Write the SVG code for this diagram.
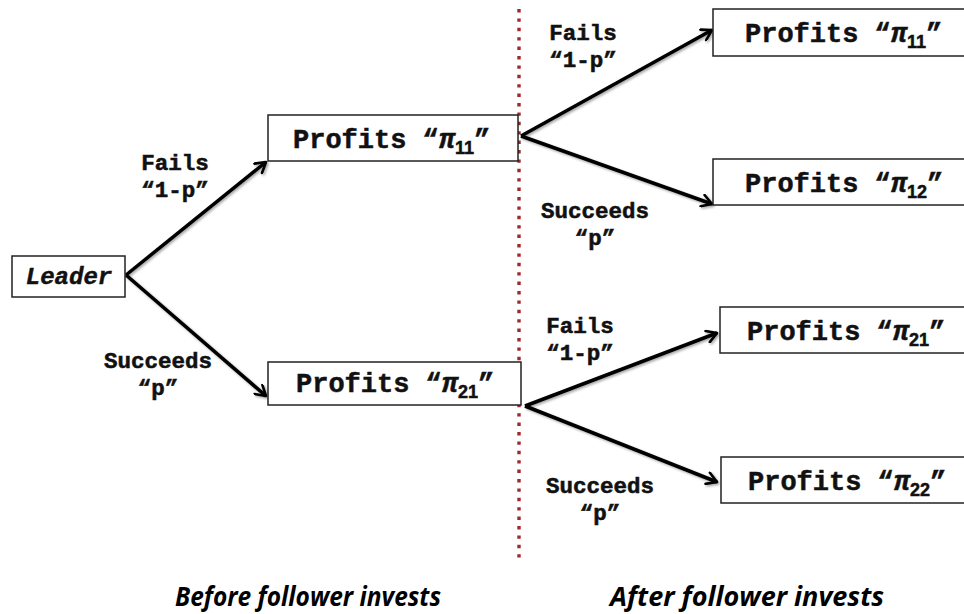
<svg xmlns="http://www.w3.org/2000/svg" width="964" height="614" viewBox="0 0 964 614">
  <defs>
    <marker id="chev" viewBox="0 0 14 14" refX="12" refY="7" markerWidth="14" markerHeight="14" markerUnits="userSpaceOnUse" orient="auto">
      <path d="M2,1 L12,7 L2,13" fill="none" stroke="#000" stroke-width="2.6" stroke-linecap="round" stroke-linejoin="round"/>
    </marker>
    <filter id="shade" x="-10%" y="-10%" width="120%" height="120%">
      <feDropShadow dx="1.5" dy="1.5" stdDeviation="1.2" flood-color="#000" flood-opacity="0.35"/>
    </filter>
  </defs>
  <style>
    .box { fill: #fff; stroke: #222; stroke-width: 1.5; }
    .lbl { font-family: "Liberation Mono", "Courier New", monospace; font-weight: bold; font-size: 22.5px; fill: #111; stroke: #111; stroke-width: 0.55; text-anchor: middle; }
    .pf { font-family: "Liberation Mono", "Courier New", monospace; font-weight: bold; font-size: 27px; fill: #111; stroke: #111; stroke-width: 0.5; }
    .pi { font-style: italic; }
    .sub { font-family: "Liberation Sans", Arial, sans-serif; font-size: 18px; font-weight: bold; }
    .lead { font-family: "Liberation Mono", "Courier New", monospace; font-weight: bold; font-style: italic; font-size: 24px; fill: #111; stroke: #111; stroke-width: 0.5; text-anchor: middle; }
    .edge { stroke: #000; stroke-width: 3.5; fill: none; marker-end: url(#chev); }
    .divider { stroke: #a3262a; stroke-width: 3.4; stroke-dasharray: 3.4 6; fill: none; }
    .phase { font-family: "Open Sans", "Liberation Sans", sans-serif; font-weight: bold; font-style: italic; font-size: 26px; fill: #000; }
  </style>

  <rect width="964" height="614" fill="#fff"/>

  <!-- time divider -->
  <line class="divider" x1="519" y1="9" x2="519" y2="558"/>

  <!-- connectors -->
  <g id="connectors" filter="url(#shade)">
    <line class="edge" x1="126" y1="275" x2="266" y2="162"/>
    <line class="edge" x1="126" y1="275" x2="266" y2="396"/>
    <line class="edge" x1="521" y1="136" x2="712" y2="30"/>
    <line class="edge" x1="521" y1="136" x2="712" y2="204"/>
    <line class="edge" x1="525" y1="406" x2="717" y2="333"/>
    <line class="edge" x1="525" y1="406" x2="717" y2="482"/>
  </g>

  <!-- branch labels -->
  <g id="labels">
    <text class="lbl" x="175" y="170">Fails</text>
    <text class="lbl" x="175" y="197">“1-p”</text>
    <text class="lbl" x="158" y="368">Succeeds</text>
    <text class="lbl" x="158" y="395">“p”</text>
    <text class="lbl" x="583" y="40">Fails</text>
    <text class="lbl" x="583" y="67">“1-p”</text>
    <text class="lbl" x="595" y="218">Succeeds</text>
    <text class="lbl" x="595" y="245">“p”</text>
    <text class="lbl" x="580" y="333">Fails</text>
    <text class="lbl" x="580" y="360">“1-p”</text>
    <text class="lbl" x="600" y="493">Succeeds</text>
    <text class="lbl" x="600" y="520">“p”</text>
  </g>

  <!-- nodes -->
  <g id="leader">
    <rect class="box" x="12" y="256" width="113" height="41"/>
    <text class="lead" x="69" y="284">Leader</text>
  </g>

  <g id="mid-pi11">
    <rect class="box" x="268" y="115" width="250" height="46"/>
    <text class="pf" x="293" y="148">Profits “<tspan class="pi">π</tspan><tspan class="sub" dy="6">11</tspan><tspan dy="-6">”</tspan></text>
  </g>

  <g id="mid-pi21">
    <rect class="box" x="268" y="362" width="253" height="43"/>
    <text class="pf" x="296" y="392">Profits “<tspan class="pi">π</tspan><tspan class="sub" dy="6">21</tspan><tspan dy="-6">”</tspan></text>
  </g>

  <g id="right-pi11">
    <rect class="box" x="713" y="9" width="270" height="47"/>
    <text class="pf" x="745" y="42">Profits “<tspan class="pi">π</tspan><tspan class="sub" dy="6">11</tspan><tspan dy="-6">”</tspan></text>
  </g>

  <g id="right-pi12">
    <rect class="box" x="713" y="159" width="270" height="46"/>
    <text class="pf" x="745" y="192">Profits “<tspan class="pi">π</tspan><tspan class="sub" dy="6">12</tspan><tspan dy="-6">”</tspan></text>
  </g>

  <g id="right-pi21">
    <rect class="box" x="720" y="307" width="270" height="46"/>
    <text class="pf" x="747" y="340">Profits “<tspan class="pi">π</tspan><tspan class="sub" dy="6">21</tspan><tspan dy="-6">”</tspan></text>
  </g>

  <g id="right-pi22">
    <rect class="box" x="721" y="457" width="270" height="46"/>
    <text class="pf" x="748" y="490">Profits “<tspan class="pi">π</tspan><tspan class="sub" dy="6">22</tspan><tspan dy="-6">”</tspan></text>
  </g>

  <!-- phase captions -->
  <text class="phase" x="175" y="606" textLength="266" lengthAdjust="spacingAndGlyphs">Before follower invests</text>
  <text class="phase" x="610" y="606" textLength="274" lengthAdjust="spacingAndGlyphs">After follower invests</text>
</svg>
